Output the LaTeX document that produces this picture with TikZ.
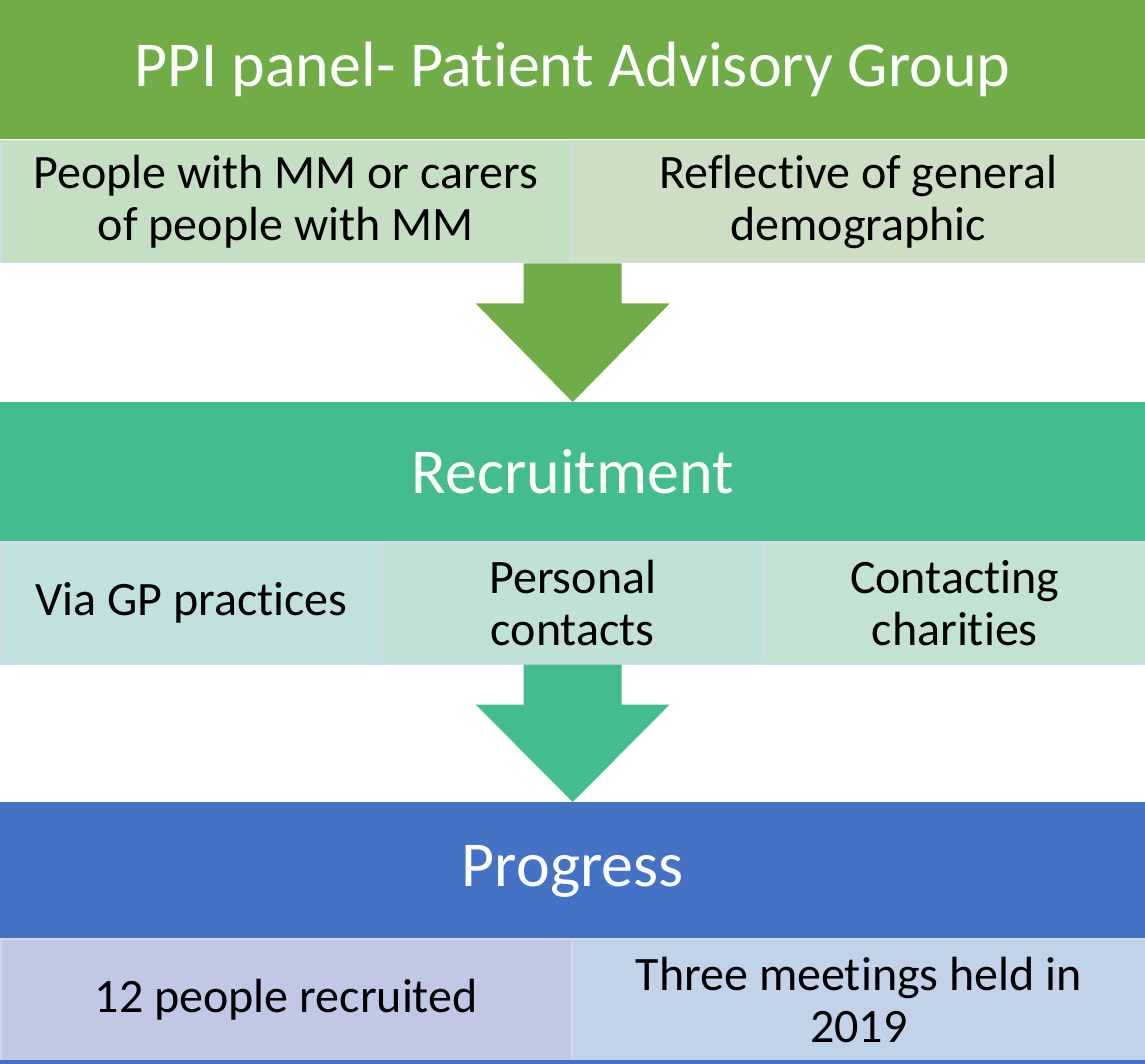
\documentclass[tikz,border=0pt]{standalone}
\usepackage{fontspec}
\setmainfont[Ligatures=NoCommon]{Carlito}
\usetikzlibrary{positioning,calc}
\definecolor{hdrgreen}{RGB}{112,173,71}
\definecolor{hdrteal}{RGB}{68,189,142}
\definecolor{hdrblue}{RGB}{68,114,196}
\definecolor{cellgreenA}{RGB}{197,223,195}
\definecolor{cellgreenB}{RGB}{204,222,196}
\definecolor{cellaquaA}{RGB}{192,225,223}
\definecolor{cellaquaB}{RGB}{192,225,216}
\definecolor{cellaquaC}{RGB}{194,226,210}
\definecolor{cellblueA}{RGB}{191,201,230}
\definecolor{cellblueB}{RGB}{192,211,232}
\definecolor{cellline}{RGB}{212,216,236}

\tikzset{
  hdr/.style={anchor=north west,minimum width=1145,minimum height=139,inner sep=0pt,
    text=white,font=\fontsize{64}{70}\selectfont},
  cell/.style={anchor=north west,minimum height=122,inner sep=0pt,draw=cellline,
    line width=1.5pt,align=center,font=\fontsize{48}{52}\selectfont},
}
% block arrow from a base point down to a tip
\newcommand{\blockarr}[3]{%
  \fill[#3] ($(#1)+(-49,0)$) -- ($(#1)+(49,0)$) -- ($(#1)+(49,40)$) -- ($(#1)+(97,40)$)
    -- (#2) -- ($(#1)+(-97,40)$) -- ($(#1)+(-49,40)$) -- cycle;}

\begin{document}
\begin{tikzpicture}[x=1pt,y=-1pt]
\useasboundingbox (0,0) rectangle (1145,1064);
\node[hdr,fill=hdrgreen] (ppi) at (0,0) {PPI panel- Patient Advisory Group};
\node[cell,fill=cellgreenA,minimum width=570] (ppiL) at (0,140) {People with MM or carers\\of people with MM};
\node[cell,fill=cellgreenB,minimum width=575] (ppiR) at (570,140) {Reflective of general\\demographic};

\node[hdr,fill=hdrteal] (rec) at (0,402) {Recruitment};
\node[cell,fill=cellaquaA,minimum width=381] (recL) at (0,541) {Via GP practices};
\node[cell,fill=cellaquaB,minimum width=382] (recM) at (381,541) {Personal\\contacts};
\node[cell,fill=cellaquaC,minimum width=382] (recR) at (763,541) {Contacting\\charities};

\node[hdr,fill=hdrblue] (prog) at (0,802) {Progress};
\node[cell,fill=cellblueA,minimum width=571] (progL) at (0,938) {12 people recruited};
\node[cell,fill=cellblueB,minimum width=574] (progR) at (571,938) {Three meetings held in\\2019};
\fill[hdrblue] (0,1060) rectangle (1145,1064);

\coordinate (base1) at (ppi.south |- ppiL.south);
\coordinate (base2) at (rec.south |- recM.south);
\blockarr{base1}{rec.north}{hdrgreen}
\blockarr{base2}{prog.north}{hdrteal}
\end{tikzpicture}
\end{document}
